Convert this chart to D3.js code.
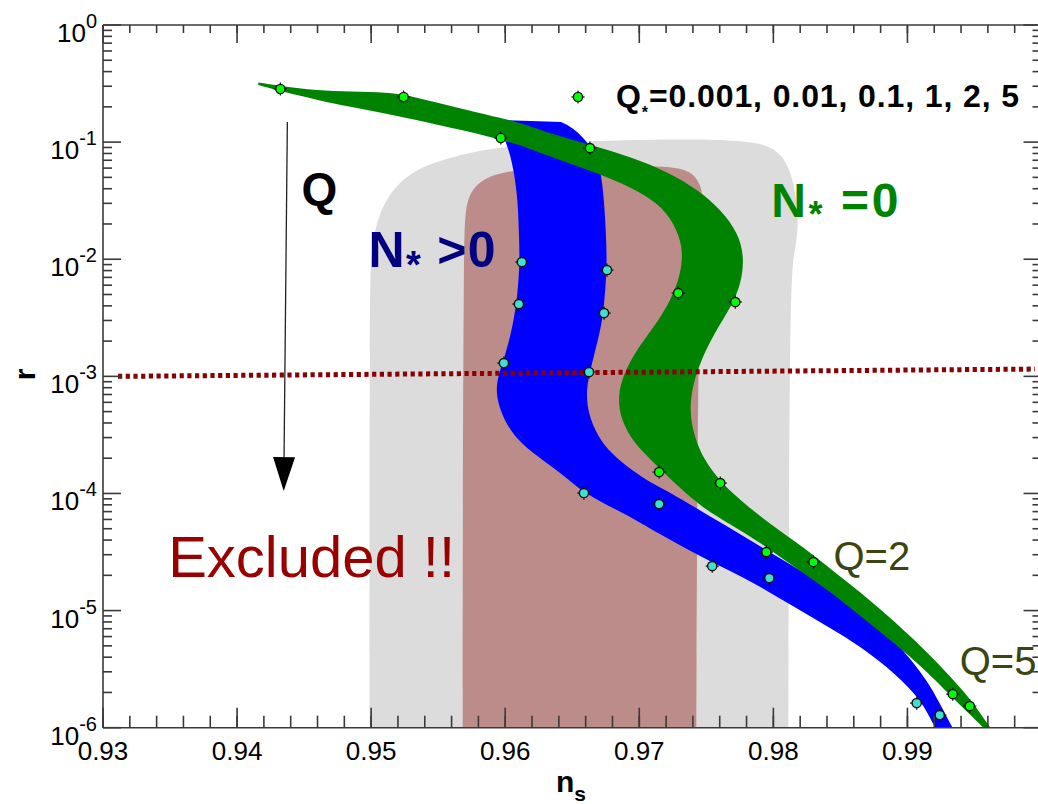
<!DOCTYPE html>
<html>
<head>
<meta charset="utf-8">
<script src="https://cdn.jsdelivr.net/npm/d3@7"></script>
<style>
  body { margin: 0; background: #fff; }
  svg { display: block; }
  text { font-family: "Liberation Sans", Arial, Helvetica, sans-serif; }
</style>
</head>
<body>
<svg id="chart" width="1038" height="804"></svg>
<script>
// ---- axis ticks ----
const nsTicks = [0.93, 0.94, 0.95, 0.96, 0.97, 0.98, 0.99];
const rExponents = [0, -1, -2, -3, -4, -5, -6];

// ---- observational constraint regions, [n_s, r] ----
const outerContour = [
  [0.94988, 1e-6], [0.94988, 0.00602], [0.95003, 0.0120], [0.95040, 0.0208], [0.95108, 0.0320],
  [0.95205, 0.0447], [0.95332, 0.0578], [0.95519, 0.0703], [0.95818, 0.0856], [0.96117, 0.0945],
  [0.96416, 0.1002], [0.96864, 0.1042], [0.97462, 0.1063], [0.97798, 0.1022], [0.97985, 0.0926],
  [0.98082, 0.0731], [0.98142, 0.0504], [0.98172, 0.0320], [0.98187, 0.0196], [0.98164, 0.0120],
  [0.98120, 0.00733], [0.98112, 1e-6]
];
const innerContour = [
  [0.95683, 1e-6], [0.95683, 6.54e-5], [0.95691, 0.00984], [0.95698, 0.0238], [0.95728, 0.0353],
  [0.95795, 0.0447], [0.95892, 0.0513], [0.95990, 0.0556], [0.96191, 0.0589], [0.96565, 0.0613],
  [0.97013, 0.0625], [0.97275, 0.0613], [0.97387, 0.0556], [0.97447, 0.0456], [0.97477, 0.0353],
  [0.97477, 0.0146], [0.97439, 0.00448], [0.97425, 1e-6]
];

// ---- predicted band, N_* > 0 (runs on past the lower axis edge) ----
const bandPosLower = [
  [0.95975, 0.1544], [0.95982, 0.1150], [0.96027, 0.0856], [0.96064, 0.0578], [0.96094, 0.0320],
  [0.96102, 0.0167], [0.96109, 0.00984], [0.96094, 0.00514], [0.96057, 0.00264], [0.95990, 0.00138],
  [0.95945, 0.00100], [0.95930, 7.20e-4], [0.95967, 4.86e-4], [0.96064, 3.03e-4], [0.96244, 2.05e-4],
  [0.96416, 1.49e-4], [0.96587, 1.008e-4], [0.96789, 7.65e-5], [0.96939, 6.29e-5], [0.97163, 4.41e-5],
  [0.97410, 3.10e-5], [0.97664, 2.22e-5], [0.97910, 1.59e-5], [0.98157, 1.071e-5], [0.98411, 7.23e-6],
  [0.98658, 4.88e-6], [0.98904, 2.93e-6], [0.99106, 1.72e-6], [0.99203, 1.0e-6], [0.99293, 7.1e-7]
];
const bandPosUpper = [
  [0.96416, 0.1485], [0.96468, 0.1400], [0.96543, 0.1220], [0.96617, 0.0982], [0.96677, 0.0746],
  [0.96715, 0.0545], [0.96737, 0.0320], [0.96752, 0.0167], [0.96759, 0.00858], [0.96744, 0.00514],
  [0.96729, 0.00321], [0.96692, 0.00204], [0.96640, 0.00120], [0.96602, 7.64e-4], [0.96617, 4.86e-4],
  [0.96692, 3.03e-4], [0.96789, 2.21e-4], [0.96939, 1.585e-4], [0.97088, 1.23e-4], [0.97238, 1.008e-4],
  [0.97410, 7.65e-5], [0.97664, 5.16e-5], [0.97910, 3.49e-5], [0.98157, 2.35e-5], [0.98411, 1.59e-5],
  [0.98658, 1.01e-5], [0.98904, 5.60e-6], [0.99158, 2.55e-6], [0.99330, 1.0e-6], [0.99420, 7.1e-7]
];

// ---- predicted band, N_* = 0 ----
const bandZeroLower = [
  [0.94158, 0.3073], [0.94323, 0.2732], [0.94599, 0.2289], [0.94846, 0.1994], [0.95093, 0.1772],
  [0.95347, 0.1544], [0.95593, 0.1319], [0.95840, 0.1150], [0.95967, 0.1042], [0.96117, 0.0945],
  [0.96318, 0.0761], [0.96662, 0.0556], [0.96939, 0.0414], [0.97141, 0.0302], [0.97260, 0.0204],
  [0.97327, 0.0127], [0.97312, 0.00762], [0.97238, 0.00448], [0.97111, 0.00264], [0.96961, 0.00158],
  [0.96864, 9.30e-4], [0.96842, 6.27e-4], [0.96864, 4.23e-4], [0.96961, 2.69e-4], [0.97066, 2.05e-4],
  [0.97238, 1.30e-4], [0.97462, 7.65e-5], [0.97664, 5.59e-5], [0.97910, 3.77e-5], [0.98157, 2.35e-5],
  [0.98411, 1.50e-5], [0.98658, 8.80e-6], [0.98904, 5.28e-6], [0.99158, 2.93e-6], [0.99405, 1.50e-6],
  [0.99570, 1.0e-6], [0.99644, 7.83e-7]
];
const bandZeroUpper = [
  [0.94158, 0.3228], [0.94323, 0.3013], [0.94599, 0.2758], [0.94846, 0.2705], [0.95123, 0.2652],
  [0.95272, 0.2525], [0.95496, 0.2158], [0.95720, 0.1880], [0.95967, 0.1606], [0.96117, 0.1456],
  [0.96318, 0.1196], [0.96640, 0.0945], [0.96939, 0.0746], [0.97215, 0.0556], [0.97439, 0.0390],
  [0.97611, 0.0263], [0.97738, 0.0167], [0.97783, 0.01044], [0.97761, 0.00626], [0.97686, 0.00391],
  [0.97559, 0.00234], [0.97462, 0.00138], [0.97402, 8.77e-4], [0.97372, 5.16e-4], [0.97410, 3.03e-4],
  [0.97484, 1.93e-4], [0.97611, 1.23e-4], [0.97813, 7.65e-5], [0.98037, 4.87e-5], [0.98284, 3.10e-5],
  [0.98531, 1.82e-5], [0.98785, 1.07e-5], [0.99031, 5.94e-6], [0.99278, 3.10e-6], [0.99480, 1.72e-6],
  [0.99614, 1.0e-6], [0.99697, 7.83e-7]
];

// ---- Q_* values and the two edge points of each band at every Q_* ----
const qStar = [0.001, 0.01, 0.1, 1, 2, 5];
const qMarkersPos = [
  [0.96124, 0.009465], [0.96759, 0.008087], [0.96102, 0.004144], [0.96737, 0.003472],
  [0.95990, 0.001299], [0.96625, 0.001088], [0.96587, 1.008e-4], [0.97148, 8.12e-5],
  [0.97544, 2.399e-5], [0.97970, 1.895e-5], [0.99069, 1.622e-6], [0.99241, 1.281e-6]
];
const qMarkersZero = [
  [0.94323, 0.2841], [0.95242, 0.2427], [0.95967, 0.1084], [0.96632, 0.0890],
  [0.97290, 0.005145], [0.97716, 0.004310], [0.97148, 1.523e-4], [0.97604, 1.227e-4],
  [0.97948, 3.16e-5], [0.98299, 2.596e-5], [0.99338, 1.936e-6], [0.99465, 1.529e-6]
];

// ---- r = 10^-3 reference line ----
const rRefLine = [[0.93112, 1e-3], [0.99951, 1.154e-3]];

// ---- annotation anchors [n_s, r] ----
const legendDot = [0.96543, 0.2427];
const legendTextAt = [0.96827, 0.1994];
const qArrowFrom = [0.94375, 0.1485];
const qArrowTo = [0.94348, 1.048e-4];
const qLabelAt = [0.94480, 0.0290];
const posLabelAt = [0.94981, 0.00858];
const zeroLabelAt = [0.97985, 0.02307];
const excludedAt = [0.93486, 1.932e-5];
const q2At = [0.98448, 2.218e-5];
const q5At = [0.99390, 2.81e-6];

// ================= drawing =================
const svg = d3.select("#chart");
const x = d3.scaleLinear().domain([0.93, 1.0]).range([103, 1041.5]);
const y = d3.scaleLog().domain([1e-6, 1]).range([727.7, 25]).clamp(false);

svg.append("defs").append("clipPath").attr("id", "plotClip")
  .append("rect")
  .attr("x", x(0.93)).attr("y", y(1))
  .attr("width", x(1.0) - x(0.93)).attr("height", y(1e-6) - y(1));

const plot = svg.append("g").attr("clip-path", "url(#plotClip)");
const edge = d3.line().x(d => x(d[0])).y(d => y(d[1])).curve(d3.curveBasis);
const region = pts => edge(pts) + "Z";
const band = (lo, up) => region(lo.concat(up.slice().reverse()));

plot.append("path").attr("d", region(outerContour)).attr("fill", "#dcdcdc");
plot.append("path").attr("d", region(innerContour)).attr("fill", "#bc8c8a");
plot.append("path").attr("d", band(bandPosLower, bandPosUpper)).attr("fill", "#0000ff");
plot.append("path").attr("d", band(bandZeroLower, bandZeroUpper)).attr("fill", "#008300");

// dotted r = 1e-3 line
plot.append("path")
  .attr("d", d3.line().x(d => x(d[0])).y(d => y(d[1]))(rRefLine))
  .attr("fill", "none").attr("stroke", "#8b0000")
  .attr("stroke-width", 5).attr("stroke-dasharray", "4.2,3.5");

// Q arrow
{
  const x0 = x(qArrowFrom[0]), y0 = y(qArrowFrom[1]);
  const x1 = x(qArrowTo[0]), y1 = y(qArrowTo[1]);
  const ang = Math.atan2(y1 - y0, x1 - x0);
  const headLen = 34, headHalf = 11;
  const bx = x1 - headLen * Math.cos(ang), by = y1 - headLen * Math.sin(ang);
  svg.append("line").attr("x1", x0).attr("y1", y0).attr("x2", bx).attr("y2", by)
    .attr("stroke", "#222").attr("stroke-width", 1.3);
  const px = -Math.sin(ang), py = Math.cos(ang);
  svg.append("path")
    .attr("d", `M${x1},${y1}L${bx + px * headHalf},${by + py * headHalf}L${bx - px * headHalf},${by - py * headHalf}Z`)
    .attr("fill", "#000");
}

// Q_* markers
function drawMarkers(pts, color) {
  const g = svg.append("g").selectAll("g").data(pts).join("g")
    .attr("transform", d => `translate(${x(d[0])},${y(d[1])})`);
  g.append("circle").attr("r", 4.6).attr("fill", color).attr("stroke", "#111").attr("stroke-width", 1.4);
  [[0, -1], [0, 1], [-1, 0], [1, 0]].forEach(([dx, dy]) => {
    g.append("line")
      .attr("x1", dx * 4.6).attr("y1", dy * 4.6).attr("x2", dx * 6.6).attr("y2", dy * 6.6)
      .attr("stroke", "#111").attr("stroke-width", 1.2);
  });
}
drawMarkers(qMarkersPos, "#40e0d0");
drawMarkers(qMarkersZero, "#00ff00");
drawMarkers([legendDot], "#00ff00");

// ---- text labels ----
{
  const t = svg.append("text")
    .attr("x", x(legendTextAt[0])).attr("y", y(legendTextAt[1]))
    .attr("font-size", 32).attr("font-weight", "bold").attr("fill", "#000")
    .attr("textLength", 403).attr("lengthAdjust", "spacing");
  t.append("tspan").text("Q");
  t.append("tspan").attr("font-size", 16).attr("dy", 11).text("*");
  t.append("tspan").attr("dy", -11).text("=" + qStar.join(", "));
}

svg.append("text")
  .attr("x", x(qLabelAt[0])).attr("y", y(qLabelAt[1]))
  .attr("font-size", 46).attr("font-weight", "bold").attr("fill", "#000")
  .text("Q");

{
  const t = svg.append("text")
    .attr("x", x(posLabelAt[0])).attr("y", y(posLabelAt[1]))
    .attr("font-size", 50).attr("font-weight", "bold").attr("fill", "#000080")
    .attr("textLength", 127).attr("lengthAdjust", "spacing");
  t.append("tspan").text("N");
  t.append("tspan").attr("font-size", 38).attr("dy", 11).text("*");
  t.append("tspan").attr("dy", -11).text(" >0");
}
{
  const t = svg.append("text")
    .attr("x", x(zeroLabelAt[0])).attr("y", y(zeroLabelAt[1]))
    .attr("font-size", 48).attr("font-weight", "bold").attr("fill", "#008300")
    .attr("textLength", 127).attr("lengthAdjust", "spacing");
  t.append("tspan").text("N");
  t.append("tspan").attr("font-size", 36).attr("dy", 10).text("*");
  t.append("tspan").attr("dy", -10).text(" =0");
}

svg.append("text")
  .attr("x", x(excludedAt[0])).attr("y", y(excludedAt[1]))
  .attr("font-size", 58).attr("fill", "#990000")
  .text("Excluded !!");

svg.append("text")
  .attr("x", x(q2At[0])).attr("y", y(q2At[1]))
  .attr("font-size", 40).attr("fill", "#3b4512")
  .text("Q=" + qStar[4]);
svg.append("text")
  .attr("x", x(q5At[0])).attr("y", y(q5At[1]))
  .attr("font-size", 40).attr("fill", "#3b4512")
  .text("Q=" + qStar[5]);

// ---- axes ----
const axisColor = "#3a3a3a";
const axes = svg.append("g").attr("stroke", axisColor).attr("stroke-width", 1.6);
const xL = x(0.93), xR = x(1.0), yB = y(1e-6), yT = y(1);
axes.append("line").attr("x1", xL).attr("x2", xR).attr("y1", yB).attr("y2", yB);
axes.append("line").attr("x1", xL).attr("x2", xR).attr("y1", yT).attr("y2", yT);
axes.append("line").attr("x1", xL).attr("x2", xL).attr("y1", yT).attr("y2", yB);
axes.append("line").attr("x1", xR).attr("x2", xR).attr("y1", yT).attr("y2", yB);

const nsMajor = d3.range(93, 101).map(i => i / 100);
const nsMinor = d3.range(465, 501).map(i => i / 500);
const rMajor = d3.range(-6, 1).map(e => Math.pow(10, e));
const rMinor = [];
for (let e = -6; e < 0; e++) for (let k = 2; k <= 9; k++) rMinor.push(k * Math.pow(10, e));

function xTicks(vals, len, base, dir) {
  axes.append("g").selectAll("line").data(vals).join("line")
    .attr("x1", d => x(d)).attr("x2", d => x(d))
    .attr("y1", base).attr("y2", base + dir * len);
}
function yTicks(vals, len, base, dir) {
  axes.append("g").selectAll("line").data(vals).join("line")
    .attr("y1", d => y(d)).attr("y2", d => y(d))
    .attr("x1", base).attr("x2", base + dir * len);
}
xTicks(nsMinor, 12, yB, -1); xTicks(nsMajor, 20, yB, -1);
xTicks(nsMinor, 8, yT, 1);   xTicks(nsMajor, 18, yT, 1);
yTicks(rMinor, 9, xL, 1);    yTicks(rMajor, 18, xL, 1);
yTicks(rMinor, 9, xR, -1);   yTicks(rMajor, 18, xR, -1);

// tick labels
svg.append("g").selectAll("text").data(nsTicks).join("text")
  .attr("x", d => x(d)).attr("y", yB + 32)
  .attr("text-anchor", "middle").attr("font-size", 26).attr("fill", "#000")
  .text(d3.format(".2f"));

svg.append("g").selectAll("text").data(rExponents).join("text")
  .attr("x", 97).attr("y", e => y(Math.pow(10, e)) + 17)
  .attr("text-anchor", "end").attr("font-size", 26).attr("fill", "#000")
  .each(function (e) {
    const t = d3.select(this);
    t.append("tspan").text("10");
    t.append("tspan").attr("font-size", 20).attr("dy", -14).text(e === 0 ? "0" : "-" + (-e));
  });

// axis titles
svg.append("text")
  .attr("transform", `translate(35,${y(1e-3) - 2}) rotate(-90)`)
  .attr("text-anchor", "middle").attr("font-size", 30).attr("font-weight", "bold")
  .text("r");
{
  const t = svg.append("text").attr("x", 556).attr("y", 792)
    .attr("font-size", 30).attr("font-weight", "bold");
  t.append("tspan").text("n");
  t.append("tspan").attr("font-size", 21).attr("dy", 9).text("s");
}
</script>
</body>
</html>
